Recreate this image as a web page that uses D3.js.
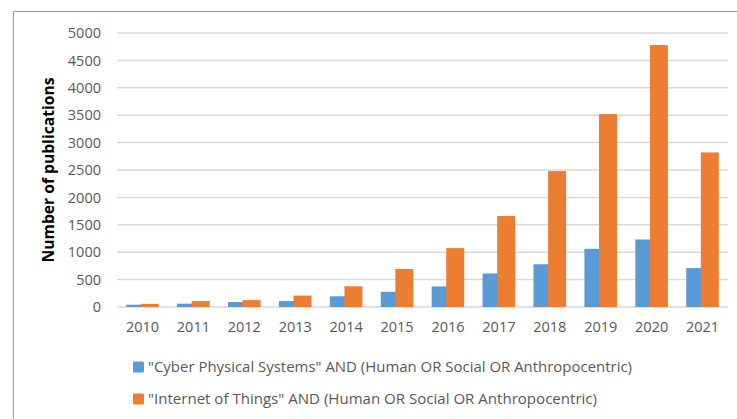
<!DOCTYPE html>
<html>
<head>
<meta charset="utf-8">
<script src="https://cdn.jsdelivr.net/npm/d3@7"></script>
<style>
body { margin: 0; background: #fff; }
text { font-family: "Open Sans", "Liberation Sans", sans-serif; }
</style>
</head>
<body>
<script>
// chart data
var years = ["2010","2011","2012","2013","2014","2015","2016","2017","2018","2019","2020","2021"];
var cpsValues = [42, 60, 90, 108, 196, 278, 375, 612, 780, 1062, 1232, 710];
var iotValues = [58, 108, 126, 208, 378, 694, 1075, 1660, 2480, 3520, 4780, 2820];
var yTicks = [0, 500, 1000, 1500, 2000, 2500, 3000, 3500, 4000, 4500, 5000];
var seriesNames = ['"Cyber Physical Systems" AND (Human OR Social OR Anthropocentric)',
                   '"Internet of Things" AND (Human OR Social OR Anthropocentric)'];
var legendLengths = [484, 449];
var colours = ["#5b9bd5", "#ed7d31"];

var width = 737, height = 419;
var plotLeft = 117, plotRight = 728, plotTop = 33, plotBottom = 307;

var svg = d3.select("body").append("svg")
    .attr("width", width).attr("height", height);

// outer frame (cut off at right and bottom)
svg.append("path")
    .attr("d", "M13.5," + height + "V11.5H" + width)
    .attr("fill", "none")
    .attr("stroke", "#a0a0a0")
    .attr("stroke-width", 1);

var x = d3.scaleBand().domain(years).range([plotLeft, plotRight]);
var y = d3.scaleLinear().domain([0, 5000]).range([plotBottom, plotTop]);

// gridlines
svg.append("g").selectAll("line").data(yTicks).enter().append("line")
    .attr("x1", plotLeft).attr("x2", plotRight)
    .attr("y1", function(d){ return y(d); })
    .attr("y2", function(d){ return y(d); })
    .attr("stroke", "#d9d9d9")
    .attr("stroke-width", 1.5);

// y axis labels
var yAxis = svg.append("g")
    .attr("transform", "translate(" + (plotLeft - 16) + ",0)")
    .call(d3.axisLeft(y).tickValues(yTicks).tickFormat(d3.format("d")).tickSize(0).tickPadding(0));
yAxis.select(".domain").remove();
yAxis.selectAll("text")
    .attr("fill", "#595959")
    .style("font-size", "14.5px");

// x axis labels
var xAxis = svg.append("g")
    .attr("transform", "translate(0," + (plotBottom + 15) + ")")
    .call(d3.axisBottom(x).tickSize(0).tickPadding(0));
xAxis.select(".domain").remove();
xAxis.selectAll("text")
    .attr("fill", "#595959")
    .style("font-size", "14.5px");

// bars
var half = 16.3;
svg.append("g").selectAll("rect").data(years).enter().append("rect")
    .attr("x", function(d){ return x(d) + x.bandwidth()/2 - half; })
    .attr("width", half)
    .attr("y", function(d, i){ return y(cpsValues[i]); })
    .attr("height", function(d, i){ return plotBottom - y(cpsValues[i]); })
    .attr("fill", colours[0]);

svg.append("g").selectAll("rect").data(years).enter().append("rect")
    .attr("x", function(d){ return x(d) + x.bandwidth()/2 - 1.7; })
    .attr("width", half + 1.7)
    .attr("y", function(d, i){ return y(iotValues[i]); })
    .attr("height", function(d, i){ return plotBottom - y(iotValues[i]); })
    .attr("fill", colours[1]);

// y axis title
svg.append("text")
    .attr("transform", "translate(54,170) rotate(-90)")
    .attr("text-anchor", "middle")
    .attr("fill", "#000")
    .attr("textLength", 185)
    .attr("lengthAdjust", "spacingAndGlyphs")
    .style("font-size", "15.5px")
    .style("font-weight", "bold")
    .text("Number of publications");

// legend
var legend = svg.append("g").selectAll("g").data(seriesNames).enter().append("g")
    .attr("transform", function(d, i){ return "translate(133," + (367 + i * 32) + ")"; });
legend.append("rect")
    .attr("x", 0).attr("y", -5.5)
    .attr("width", 11).attr("height", 11)
    .attr("rx", 1.5)
    .attr("fill", function(d, i){ return colours[i]; });
legend.append("text")
    .attr("x", 15).attr("dy", "0.35em")
    .attr("fill", "#595959")
    .attr("textLength", function(d, i){ return legendLengths[i]; })
    .attr("lengthAdjust", "spacingAndGlyphs")
    .style("font-size", "15px")
    .text(function(d){ return d; });
</script>
</body>
</html>
